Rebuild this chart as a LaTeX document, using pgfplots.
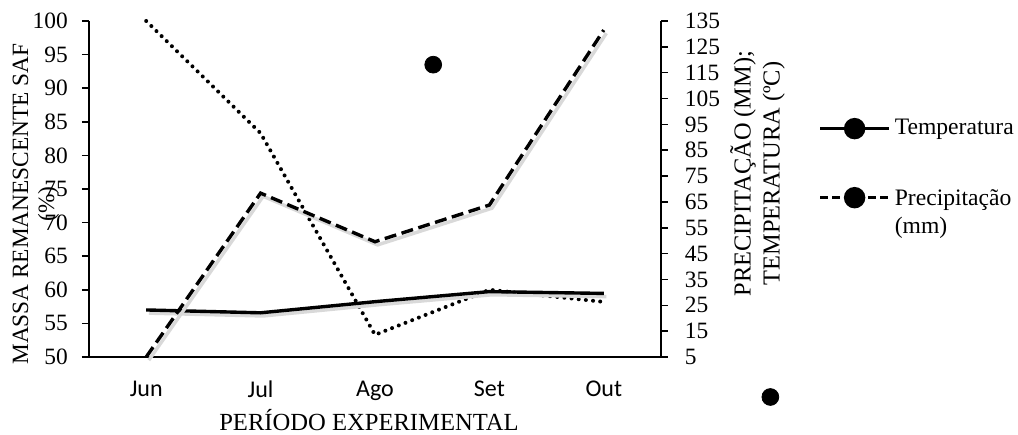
\documentclass[border=0pt]{standalone}
\usepackage{fontspec}
\setmainfont{Liberation Serif}
\newfontfamily\calibri{Carlito}
\usepackage{pgfplots}
\pgfplotsset{compat=1.18}

\pgfplotsset{
  base/.style={
    scale only axis, width=286pt, height=168pt,
    at={(44.5pt,38.5pt)}, anchor=south west,
    xmin=-0.5, xmax=4.5, clip=false,
    axis line style={line width=0.8pt, black},
    tick align=outside, major tick length=3.5pt,
    tick style={line width=0.8pt, black},
    /pgf/number format/assume math mode=true,
    yticklabel style={font=\fontsize{11.7}{13}\selectfont},
  },
  sombra/.style={preaction={draw=black!15, solid, transform canvas={xshift=1.3pt, yshift=-1.6pt}}},
  temp/.style={black, line width=1.7pt},
  chuva/.style={black, line width=1.7pt, dash pattern=on 6pt off 2.8pt},
  massa/.style={black, line width=2pt, line cap=round, dash pattern=on 0pt off 3.6pt},
}

\begin{document}
\fontsize{11.7}{14}\selectfont
\begin{tikzpicture}[x=1pt,y=1pt]
\path[use as bounding box] (0,0) rectangle (509,217);

% eixo esquerdo: massa remanescente
\begin{axis}[base,
  axis x line*=bottom, axis y line*=left,
  x axis line style={shorten <=-3.5pt},
  ymin=50, ymax=100, ytick={50,55,...,100},
  yticklabel shift=3pt,
  xtick={0,1,2,3,4}, xticklabels={Jun,Jul,Ago,Set,Out},
  x tick style={draw=none},
  xticklabel style={font=\calibri\fontsize{12}{13}\selectfont, yshift=-4.5pt},
  xlabel={PERÍODO EXPERIMENTAL},
  xlabel style={font=\fontsize{12.3}{14}\selectfont, at={(axis description cs:0.4895,-0.220)}, anchor=base},
  ylabel={MASSA REMANESCENTE SAF\\(\%)},
  ylabel style={font=\fontsize{11.65}{13}\selectfont, align=center, at={(axis description cs:-0.0927,0.455)}, anchor=center},
]
\addplot[massa] coordinates {(0,100) (1,83.3) (2,53.3) (3,60.0) (4,58.2)};
% marcadores soltos
\addplot[only marks, mark=*, mark size=4.2pt, black] coordinates {(2.509,93.5) (5.456,44.05)};
\end{axis}

% eixo direito: precipitacao e temperatura
\begin{axis}[base,
  axis x line=none, axis y line*=right,
  ymin=5, ymax=135, ytick={5,15,...,135},
  yticklabel style={inner xsep=8.3pt},
  ylabel={PRECIPITAÇÃO (MM);\\TEMPERATURA (ºC)},
  ylabel style={font=\fontsize{12.2}{14.5}\selectfont, align=center, at={(axis description cs:1.1687,0.546)}, anchor=center},
  legend cell align=left,
  legend style={draw=none, fill=none, font=\fontsize{11.8}{14}\selectfont,
    at={(axis description cs:1.2745,0.721)}, anchor=north west,
    row sep=20pt, inner sep=0pt, nodes={inner sep=2pt}},
  legend image code/.code={
    \draw[#1] (0pt,0pt) -- (34.5pt,0pt);
    \draw[#1, solid] plot[mark=*, mark size=4.5pt] coordinates {(17.25pt,0pt)};
  },
]
\addplot[temp, sombra, forget plot] coordinates {(0,23.2) (1,22.1) (2,26.4) (3,30.3) (4,29.6)};
\addplot[chuva, sombra, forget plot] coordinates {(0,5) (1,68.4) (2,49.6) (3,63.8) (4,131.5)};
\addlegendimage{temp}
\addlegendentry{Temperatura}
\addlegendimage{chuva, dash pattern=on 4pt off 2pt}
\addlegendentry{\begin{tabular}[t]{@{}l@{}}Precipitação\\(mm)\end{tabular}}
\end{axis}
\end{tikzpicture}
\end{document}
